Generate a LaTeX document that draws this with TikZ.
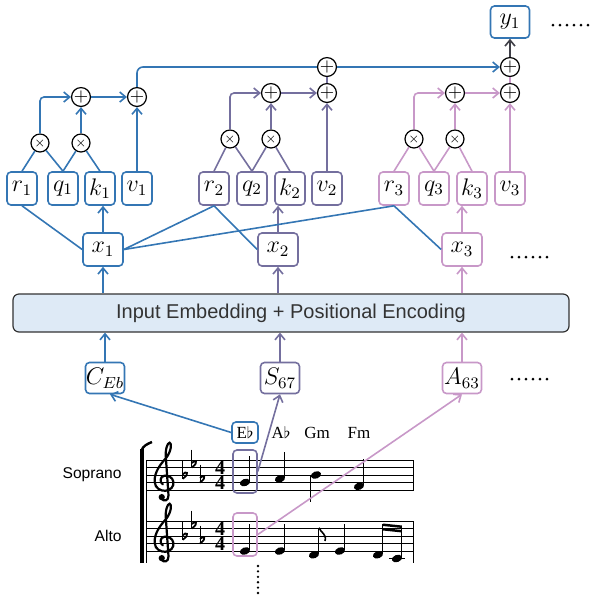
\documentclass[tikz,border=0pt]{standalone}
\usepackage{fontspec}
\setmainfont{Liberation Serif}
\setsansfont{Liberation Sans}
\usepackage{amsmath}
\usetikzlibrary{arrows.meta, calc}

\definecolor{grpA}{RGB}{52,118,180}
\definecolor{grpB}{RGB}{116,111,158}
\definecolor{grpC}{RGB}{200,152,200}
\definecolor{embfill}{RGB}{222,234,246}
\definecolor{sumgray}{RGB}{64,64,72}

% score helpers (inside a scope measured in staff spaces)
\newcommand\gclef{%
  \draw[line width=1.1pt, line cap=round]
    (-0.35,-2.05) .. controls (-0.1,-2.65) and (0.65,-2.45) .. (0.6,-1.7)
    -- (0.25,3.3)
    .. controls (0.15,4.4) and (0.45,5.3) .. (0.75,5.3)
    .. controls (1.05,5.3) and (1.0,4.2) .. (0.3,3.3)
    .. controls (-0.5,2.4) and (-1.3,1.4) .. (-1.25,0.1)
    .. controls (-1.2,-0.8) and (-0.4,-1.15) .. (0.2,-1.1)
    .. controls (0.9,-1.05) and (1.35,-0.5) .. (1.25,0.1)
    .. controls (1.15,0.75) and (0.5,0.95) .. (0.05,0.9)
    .. controls (-0.5,0.85) and (-0.65,0.05) .. (-0.15,-0.25);
  \fill (-0.3,-1.95) circle (0.42);}
\newcommand\keyflat[2]{%
  \draw[line width=0.45pt] (#1-0.3,#2+1.9) -- (#1-0.3,#2-0.55);
  \draw[line width=0.9pt] (#1-0.3,#2+0.1) .. controls (#1+0.1,#2+0.6) and (#1+0.8,#2+0.3) .. (#1-0.3,#2-0.5);}
% notes (picture units)
\newcommand\notehead[2]{\fill[rotate around={20:(#1,#2)}] (#1,#2) ellipse [x radius=5.3, y radius=3.6];}
\newcommand\noteup[2]{\notehead{#1}{#2}\draw[line width=0.5pt] (#1+5,#2-1) -- (#1+5,#2-27);}
\newcommand\notedown[2]{\notehead{#1}{#2}\draw[line width=0.5pt] (#1-5,#2+1) -- (#1-5,#2+27);}

\begin{document}
\begin{tikzpicture}[
    x=0.5pt, y=-0.5pt,
    vbox/.style={draw, rounded corners=2pt, line width=0.8pt, fill=white, inner sep=0pt, minimum width=15pt, minimum height=16.5pt, font=\fontsize{12}{14}\selectfont},
    xbox/.style={vbox, minimum width=20pt},
    tokbox/.style={vbox, minimum width=19.5pt, minimum height=15.5pt},
    mulc/.style={draw, circle, line width=0.6pt, fill=white, inner sep=0pt, minimum size=9pt, font=\fontsize{6.5}{7}\selectfont},
    addc/.style={mulc, font=\fontsize{9}{9}\selectfont},
    embbox/.style={draw=black!80, rounded corners=3pt, line width=0.6pt, fill=embfill, minimum width=278pt, minimum height=19pt, font=\sffamily\fontsize{10}{12}\selectfont, text=black!80},
    arr/.style={-{Straight Barb[length=3pt, width=5pt]}},
    lnA/.style={draw=grpA, line width=0.8pt},
    lnB/.style={draw=grpB, line width=0.8pt},
    lnC/.style={draw=grpC, line width=0.8pt},
    chord/.style={font=\fontsize{8.5}{10}\selectfont, inner sep=0pt},
    voice/.style={font=\sffamily\fontsize{7.8}{9}\selectfont, anchor=east, inner sep=0pt},
    meter/.style={font=\bfseries\fontsize{10}{7.5}\selectfont, inner sep=0pt, align=center}
]
\useasboundingbox (0,0) rectangle (590,602);

    % Group 1
    \node[vbox, draw=grpA] (r1) at (22,188.5) {$r_1$};
    \node[vbox, draw=grpA] (q1) at (63,188.5) {$q_1$};
    \node[vbox, draw=grpA] (k1) at (100,188.5) {$k_1$};
    \node[vbox, draw=grpA] (v1) at (137,188.5) {$v_1$};
    \node[mulc] (m1a) at (40,143) {$\times$};
    \node[mulc] (m1b) at (81,143) {$\times$};
    \node[addc] (p1a) at (81,97) {$+$};
    \node[addc] (p1b) at (137,97) {$+$};

    % Group 2
    \node[vbox, draw=grpB] (r2) at (214,188.5) {$r_2$};
    \node[vbox, draw=grpB] (q2) at (252,188.5) {$q_2$};
    \node[vbox, draw=grpB] (k2) at (290,188.5) {$k_2$};
    \node[vbox, draw=grpB] (v2) at (327,188.5) {$v_2$};
    \node[mulc] (m2a) at (230,139) {$\times$};
    \node[mulc] (m2b) at (271,139) {$\times$};
    \node[addc] (p2a) at (271,93) {$+$};
    \node[addc] (p2b) at (327,93) {$+$};
    \node[addc] (p2t) at (327,67) {$+$};

    % Group 3
    \node[vbox, draw=grpC] (r3) at (394,188.5) {$r_3$};
    \node[vbox, draw=grpC] (q3) at (434,188.5) {$q_3$};
    \node[vbox, draw=grpC] (k3) at (472,188.5) {$k_3$};
    \node[vbox, draw=grpC] (v3) at (510,188.5) {$v_3$};
    \node[mulc] (m3a) at (414,139) {$\times$};
    \node[mulc] (m3b) at (455,139) {$\times$};
    \node[addc] (p3a) at (455,93) {$+$};
    \node[addc] (p3b) at (510,93) {$+$};
    \node[addc] (p3t) at (510,67) {$+$};

    % Output
    \node[vbox, draw=grpA, minimum width=19.5pt, minimum height=16pt] (y1) at (510,22) {$y_1$};

    \draw[lnA] (r1.north) -- (m1a);
    \draw[lnA] (q1.north) -- (m1a);
    \draw[lnA] (q1.north) -- (m1b);
    \draw[lnA] (k1.north) -- (m1b);
    \draw[lnA, arr, rounded corners=2pt] (m1a) |- (p1a);
    \draw[lnA, arr] (m1b) -- (p1a);
    \draw[lnA, arr] (p1a) -- (p1b);
    \draw[lnA, arr] (v1) -- (p1b);
    \draw[lnA, rounded corners=3pt] (p1b) |- (p2t);
    \draw[lnA, arr] (p2t) -- (p3t);

    \draw[lnB] (r2.north) -- (m2a);
    \draw[lnB] (q2.north) -- (m2a);
    \draw[lnB] (q2.north) -- (m2b);
    \draw[lnB] (k2.north) -- (m2b);
    \draw[lnB, arr, rounded corners=2pt] (m2a) |- (p2a);
    \draw[lnB, arr] (m2b) -- (p2a);
    \draw[lnB, arr] (p2a) -- (p2b);
    \draw[lnB, arr] (v2) -- (p2b);
    \draw[lnB] (p2b) -- (p2t);

    \draw[lnC] (r3.north) -- (m3a);
    \draw[lnC] (q3.north) -- (m3a);
    \draw[lnC] (q3.north) -- (m3b);
    \draw[lnC] (k3.north) -- (m3b);
    \draw[lnC, arr, rounded corners=2pt] (m3a) |- (p3a);
    \draw[lnC, arr] (m3b) -- (p3a);
    \draw[lnC, arr] (p3a) -- (p3b);
    \draw[lnC, arr] (v3) -- (p3b);
    \draw[lnC] (p3b) -- (p3t);
    \draw[draw=sumgray, line width=0.8pt, arr] (p3t) -- (y1);

    % Token vectors
    \node[xbox, draw=grpA] (x1) at (103,249.5) {$x_1$};
    \node[xbox, draw=grpB] (x2) at (278,249.5) {$x_2$};
    \node[xbox, draw=grpC] (x3) at (462,249.5) {$x_3$};
    \draw[lnA, arr] (x1.north) -- (x1.north |- k1.south);
    \draw[lnB, arr] (x2.north) -- (x2.north |- k2.south);
    \draw[lnC, arr] (x3.north) -- (x3.north |- k3.south);
    \draw[lnA] (r1.south) -- (x1.west);
    \draw[lnA] (x1.east) -- (r2.south);
    \draw[lnA] (x1.east) -- (r3.south);
    \draw[lnA] (r2.south) -- (x2.west);
    \draw[lnA] (r3.south) -- (x3.west);

    % Embedding
    \node[embbox] (emb) at (291,313) {Input Embedding + Positional Encoding};
    \draw[lnA, arr] (x1.south |- emb.north) -- (x1.south);
    \draw[lnB, arr] (x2.south |- emb.north) -- (x2.south);
    \draw[lnC, arr] (x3.south |- emb.north) -- (x3.south);

    % Input tokens
    \node[tokbox, draw=grpA] (c) at (105,378) {$C_{Eb}$};
    \node[tokbox, draw=grpB] (s) at (280,378) {$S_{67}$};
    \node[tokbox, draw=grpC] (a) at (462,378) {$A_{63}$};
    \draw[lnA, arr] (c.north) -- (c.north |- emb.south);
    \draw[lnB, arr] (s.north) -- (s.north |- emb.south);
    \draw[lnC, arr] (a.north) -- (a.north |- emb.south);

    % Continuation dots
    \foreach \i in {0,...,5} {
        \fill (553+\i*7,25) circle (1.5);
        \fill (512+\i*7,257) circle (1.5);
        \fill (512+\i*7,379) circle (1.5);
        \fill (258,566+\i*5.4) circle (1.3);
    }

    % Score: chords and voices
    \node[draw=grpA, rounded corners=2pt, line width=0.8pt, minimum width=13pt, minimum height=10.5pt, chord] (eb) at (245,432.5) {E$\flat$};
    \node[chord] (ab) at (281,432.5) {A$\flat$};
    \node[chord] (gm) at (317,432.5) {Gm};
    \node[chord] (fm) at (359,432.5) {Fm};
    \node[voice] (sop) at (122,475) {Soprano};
    \node[voice] (alt) at (122,536) {Alto};

    \foreach \k in {0,...,4} {
        \draw[line width=0.5pt] (147,460+7.5*\k) -- (414,460+7.5*\k);
        \draw[line width=0.5pt] (147,521+7.5*\k) -- (414,521+7.5*\k);
    }
    \draw[line width=0.5pt] (147,460) -- (147,563);
    \draw[line width=0.5pt] (414,460) -- (414,490);
    \draw[line width=0.5pt] (414,521) -- (414,563);
    \draw[line width=1.7pt] (142,563) -- (142,449);
    \draw[line width=1.2pt] (141.5,450.5) .. controls (143,446) and (147,444) .. (152,442);

    \begin{scope}[shift={(164,482.5)}, x=3.75pt, y=3.75pt]
        \gclef
        \keyflat{2.8}{1} \keyflat{4.0}{2.5} \keyflat{5.1}{0.5}
        \node[meter] (tsS) at (7.5,1) {4\\4};
    \end{scope}
    \begin{scope}[shift={(164,543.5)}, x=3.75pt, y=3.75pt]
        \gclef
        \keyflat{2.8}{1} \keyflat{4.0}{2.5} \keyflat{5.1}{0.5}
        \node[meter] (tsA) at (7.5,1) {4\\4};
    \end{scope}

    % Soprano notes
    \noteup{245}{482.5}
    \noteup{280}{478.75}
    \notedown{316}{475}
    \noteup{359}{486.25}
    % Alto notes
    \noteup{245}{551}
    \noteup{280}{551}
    \noteup{314}{554.75}
    \draw[line width=0.8pt] (319,527.75) .. controls (321,533) and (327,534) .. (325,541);
    \noteup{340}{551}
    \notehead{378}{554.75}
    \notehead{397}{558.5}
    \draw[line width=0.5pt] (383,553.75) -- (383,524);
    \draw[line width=0.5pt] (402,557.5) -- (402,526);
    \fill (383,523.5) -- (402,525.5) -- (402,528) -- (383,526) -- cycle;
    \fill (383,528) -- (402,530) -- (402,532.5) -- (383,530.5) -- cycle;
    \draw[line width=0.5pt] (389,558.5) -- (405,558.5);

    % Note selections
    \node[draw=grpB, rounded corners=2pt, line width=0.8pt, minimum width=12pt, minimum height=21.5pt] (sbox) at (245,471.5) {};
    \node[draw=grpC, rounded corners=2pt, line width=0.8pt, minimum width=12pt, minimum height=21.5pt] (abox) at (245,534.5) {};
    \draw[lnA, arr] (eb.west) -- ([xshift=2.5pt]c.south);
    \draw[lnB, arr] (sbox.east) -- (s.south);
    \draw[lnC, arr] (abox.east) -- (a.south);

\end{tikzpicture}
\end{document}
